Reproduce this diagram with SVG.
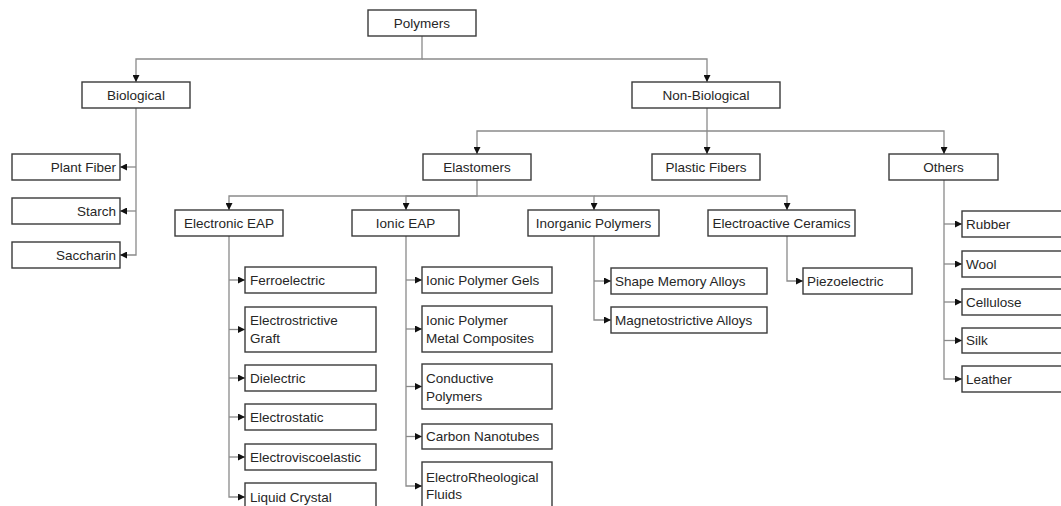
<svg xmlns="http://www.w3.org/2000/svg" width="1061" height="506" viewBox="0 0 1061 506">
<style>
rect{fill:#fff;stroke:#3a3a3a;stroke-width:1.4}
text{font-family:"Liberation Sans",Arial,sans-serif;font-size:13.5px;fill:#262626}
.c{text-anchor:middle}
.r{text-anchor:end}
#connectors path{fill:none;stroke:#8a8a8a;stroke-width:1.3}
</style>
<defs>
<marker id="a" viewBox="0 0 8 8" refX="8" refY="4" markerWidth="7" markerHeight="7" markerUnits="userSpaceOnUse" orient="auto"><path d="M0,0L8,4L0,8z" fill="#111"/></marker>
</defs>
<rect x="0" y="0" width="1061" height="506" style="fill:#fff;stroke:none"/>
<g id="connectors">
<path d="M422,36V59H136V82" marker-end="url(#a)"/>
<path d="M422,59H707V82" marker-end="url(#a)"/>
<path d="M136,108V255H120" marker-end="url(#a)"/>
<path d="M136,167H120" marker-end="url(#a)"/>
<path d="M136,211H120" marker-end="url(#a)"/>
<path d="M707,108V154" marker-end="url(#a)"/>
<path d="M707,131H477V154" marker-end="url(#a)"/>
<path d="M707,131H944V154" marker-end="url(#a)"/>
<path d="M477,180V196H229V210" marker-end="url(#a)"/>
<path d="M477,196H406V210" marker-end="url(#a)"/>
<path d="M477,196H594V210" marker-end="url(#a)"/>
<path d="M594,196H787V210" marker-end="url(#a)"/>
<path d="M229,236V497H245" marker-end="url(#a)"/>
<path d="M229,280H245" marker-end="url(#a)"/>
<path d="M229,329.5H245" marker-end="url(#a)"/>
<path d="M229,378H245" marker-end="url(#a)"/>
<path d="M229,417H245" marker-end="url(#a)"/>
<path d="M229,457H245" marker-end="url(#a)"/>
<path d="M406,236V486H422" marker-end="url(#a)"/>
<path d="M406,280H422" marker-end="url(#a)"/>
<path d="M406,329H422" marker-end="url(#a)"/>
<path d="M406,386.5H422" marker-end="url(#a)"/>
<path d="M406,436.5H422" marker-end="url(#a)"/>
<path d="M594,236V320H611" marker-end="url(#a)"/>
<path d="M594,281H611" marker-end="url(#a)"/>
<path d="M787,236V281H803" marker-end="url(#a)"/>
<path d="M944,180V379H962" marker-end="url(#a)"/>
<path d="M944,224H962" marker-end="url(#a)"/>
<path d="M944,264H962" marker-end="url(#a)"/>
<path d="M944,302H962" marker-end="url(#a)"/>
<path d="M944,340.5H962" marker-end="url(#a)"/>
</g>
<g id="polymers"><rect x="368" y="10" width="108" height="26"/><text class="c" x="422" y="27.5">Polymers</text></g>
<g id="biological"><rect x="82" y="82" width="108" height="26"/><text class="c" x="136" y="99.5">Biological</text></g>
<g id="non-biological"><rect x="632" y="82" width="148" height="26"/><text class="c" x="706" y="99.5">Non-Biological</text></g>
<g id="plant-fiber"><rect x="12" y="154" width="108" height="26"/><text class="r" x="116" y="171.5">Plant Fiber</text></g>
<g id="starch"><rect x="12" y="198" width="108" height="26"/><text class="r" x="116" y="215.5">Starch</text></g>
<g id="saccharin"><rect x="12" y="242" width="108" height="26"/><text class="r" x="116" y="259.5">Saccharin</text></g>
<g id="elastomers"><rect x="423" y="154" width="108" height="26"/><text class="c" x="477" y="171.5">Elastomers</text></g>
<g id="plastic-fibers"><rect x="652" y="154" width="108" height="26"/><text class="c" x="706" y="171.5">Plastic Fibers</text></g>
<g id="others"><rect x="889" y="154" width="109" height="26"/><text class="c" x="943.5" y="171.5">Others</text></g>
<g id="electronic-eap"><rect x="175" y="210" width="108" height="26"/><text class="c" x="229" y="227.5">Electronic EAP</text></g>
<g id="ionic-eap"><rect x="352" y="210" width="107" height="26"/><text class="c" x="405.5" y="227.5">Ionic EAP</text></g>
<g id="inorganic-polymers"><rect x="528" y="210" width="131" height="26"/><text class="c" x="593.5" y="227.5">Inorganic Polymers</text></g>
<g id="electroactive-ceramics"><rect x="708" y="210" width="147" height="26"/><text class="c" x="781.5" y="227.5">Electroactive Ceramics</text></g>
<g id="ferroelectric"><rect x="245" y="267" width="131" height="26"/><text x="250" y="284.5">Ferroelectric</text></g>
<g id="electrostrictive-graft"><rect x="245" y="307" width="131" height="45"/><text x="250" y="325">Electrostrictive</text><text x="250" y="343">Graft</text></g>
<g id="dielectric"><rect x="245" y="365" width="131" height="26"/><text x="250" y="382.5">Dielectric</text></g>
<g id="electrostatic"><rect x="245" y="404" width="131" height="26"/><text x="250" y="421.5">Electrostatic</text></g>
<g id="electroviscoelastic"><rect x="245" y="444" width="131" height="26"/><text x="250" y="461.5">Electroviscoelastic</text></g>
<g id="liquid-crystal"><rect x="245" y="483" width="131" height="30"/><text x="250" y="501.5">Liquid Crystal</text></g>
<g id="ionic-polymer-gels"><rect x="422" y="267" width="130" height="26"/><text x="426" y="284.5">Ionic Polymer Gels</text></g>
<g id="ipmc"><rect x="422" y="306" width="130" height="46"/><text x="426" y="324.5">Ionic Polymer</text><text x="426" y="342.5">Metal Composites</text></g>
<g id="conductive-polymers"><rect x="422" y="364" width="130" height="45"/><text x="426" y="382.5">Conductive</text><text x="426" y="400.5">Polymers</text></g>
<g id="carbon-nanotubes"><rect x="422" y="424" width="130" height="25"/><text x="426" y="441">Carbon Nanotubes</text></g>
<g id="electrorheological-fluids"><rect x="422" y="462" width="130" height="50"/><text x="426" y="481.5">ElectroRheological</text><text x="426" y="498.5">Fluids</text></g>
<g id="shape-memory-alloys"><rect x="611" y="268" width="156" height="26"/><text x="615" y="285.5">Shape Memory Alloys</text></g>
<g id="magnetostrictive-alloys"><rect x="611" y="307" width="156" height="26"/><text x="615" y="324.5">Magnetostrictive Alloys</text></g>
<g id="piezoelectric"><rect x="803" y="268" width="109" height="26"/><text x="807" y="285.5">Piezoelectric</text></g>
<g id="rubber"><rect x="962" y="211" width="110" height="26"/><text x="966" y="228.5">Rubber</text></g>
<g id="wool"><rect x="962" y="251" width="110" height="26"/><text x="966" y="268.5">Wool</text></g>
<g id="cellulose"><rect x="962" y="289" width="110" height="26"/><text x="966" y="306.5">Cellulose</text></g>
<g id="silk"><rect x="962" y="328" width="110" height="25"/><text x="966" y="345">Silk</text></g>
<g id="leather"><rect x="962" y="366" width="110" height="26"/><text x="966" y="383.5">Leather</text></g>
</svg>
